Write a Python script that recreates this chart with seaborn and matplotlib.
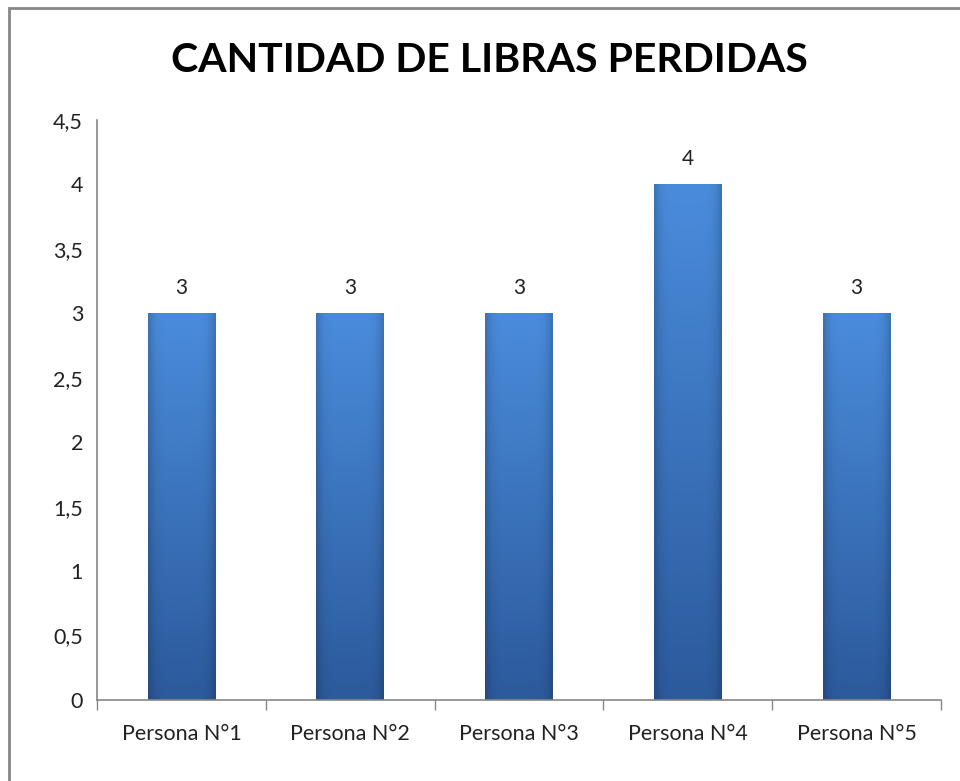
import numpy as np
import pandas as pd
import matplotlib
matplotlib.use("Agg")
import matplotlib.pyplot as plt
import seaborn as sns
from matplotlib.patches import Rectangle

personas = ["Persona N°1", "Persona N°2", "Persona N°3", "Persona N°4", "Persona N°5"]
libras = [3, 3, 3, 4, 3]
y_ticks = [0, 0.5, 1, 1.5, 2, 2.5, 3, 3.5, 4, 4.5]

sns.set_theme(style="white")
plt.rcParams["font.family"] = ["Lato", "DejaVu Sans"]

df = pd.DataFrame({"persona": personas, "libras": libras})

W, H = 960, 781
fig = plt.figure(figsize=(W / 100, H / 100), dpi=100)
ax = fig.add_axes([97 / W, (H - 700) / H, (941 - 97) / W, (700 - 120) / H])

sns.barplot(data=df, x="persona", y="libras", color="#3a72c0",
            width=0.40, saturation=1, ax=ax)

# Gradient fill on each bar (lighter top, darker bottom, dark edges)
ny, nx = 64, 32
vert = np.linspace(1.0, 0.0, ny)[:, None]
horiz = np.abs(np.linspace(-1, 1, nx))[None, :]
top = np.array([0x4a, 0x8c, 0xdc]) / 255
bot = np.array([0x2c, 0x5a, 0x9c]) / 255
base = bot + (top - bot) * vert[..., None]
shade = 1 - 0.18 * horiz[..., None] ** 6
grad = np.clip(base * shade, 0, 1)
for p in ax.patches:
    x0, y0 = p.get_x(), p.get_y()
    w, h = p.get_width(), p.get_height()
    p.set_edgecolor("none")
    im = ax.imshow(grad, extent=[x0, x0 + w, y0, y0 + h], aspect="auto",
                   zorder=p.get_zorder() + 0.1, interpolation="bicubic")
    im.set_clip_path(p)
    ax.text(x0 + w / 2, h + 0.12, f"{h:g}", ha="center", va="bottom",
            fontsize=15, color="#222222")

ax.set_xlim(-0.5, len(personas) - 0.5)
ax.set_ylim(0, 4.5)
ax.set_yticks(y_ticks)
ax.set_yticklabels([f"{t:g}".replace(".", ",") for t in y_ticks])
ax.set_xlabel("")
ax.set_ylabel("")
ax.tick_params(axis="y", length=0, pad=10, labelsize=15.5, labelcolor="#222222")
ax.tick_params(axis="x", length=0, pad=17, labelsize=15.5, labelcolor="#222222")

# category boundary tick marks below the x axis
ax.set_xticks(np.arange(-0.5, len(personas), 1.0), minor=True)
ax.tick_params(axis="x", which="minor", length=7, width=1, color="#868686",
               direction="out", bottom=True)

for s in ["top", "right"]:
    ax.spines[s].set_visible(False)
for s in ["left", "bottom"]:
    ax.spines[s].set_color("#868686")
    ax.spines[s].set_linewidth(1.2)

fig.text(489 / W, 1 - 61 / H, "CANTIDAD DE LIBRAS PERDIDAS", ha="center",
         va="center", fontsize=29.5, fontweight="bold", color="#000000")

# chart frame
fig.patches.append(Rectangle((9 / W, -0.1), 1.2, 1 - 8 / H + 0.1,
                             transform=fig.transFigure, fill=False,
                             edgecolor="#868686", linewidth=2.0))

fig.savefig("out.png", dpi=100)
